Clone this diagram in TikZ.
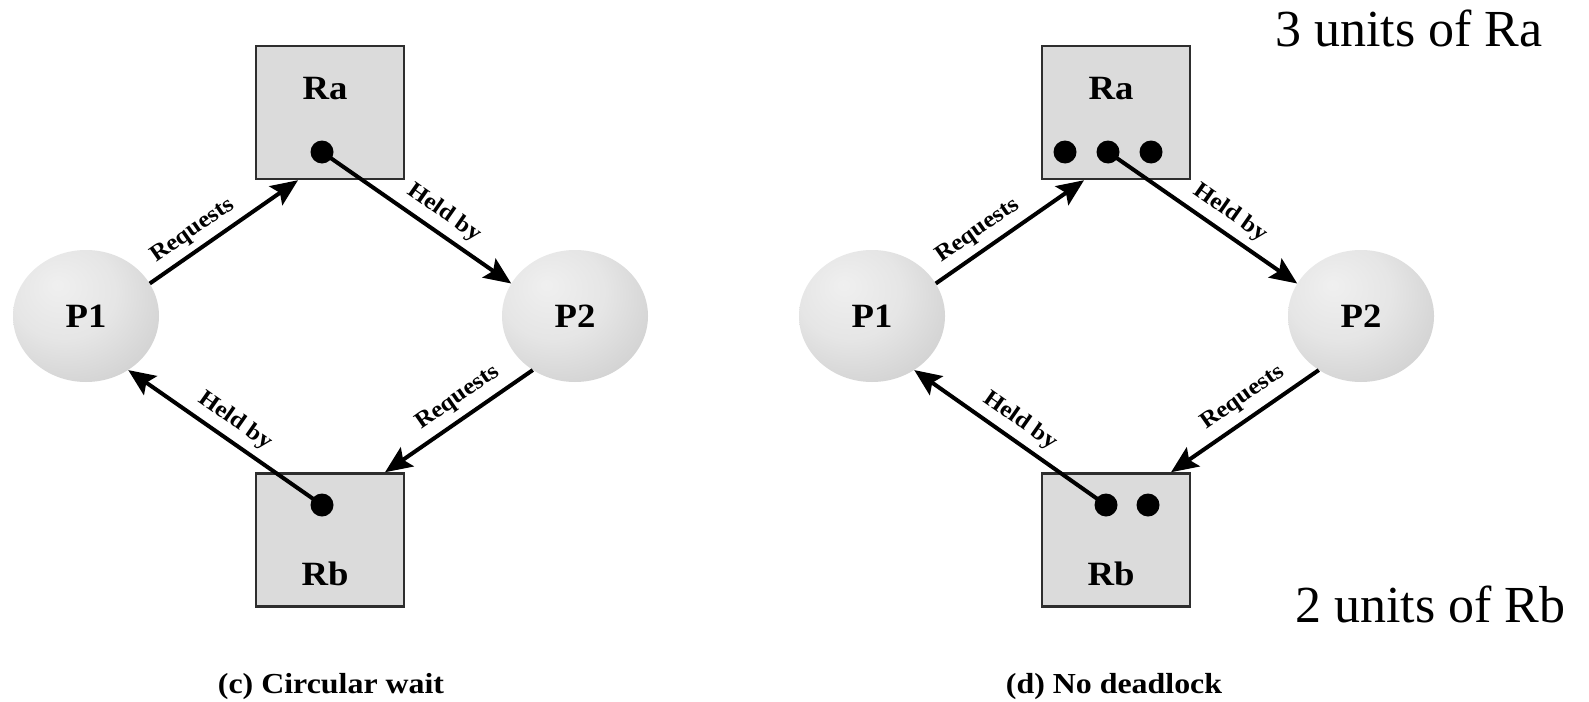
\documentclass[tikz,border=0pt]{standalone}
\usepackage{fontspec}
\setmainfont{Liberation Serif}
\usetikzlibrary{shapes.geometric,arrows.meta}
\pgfdeclareradialshading{procball}{\pgfpoint{-10bp}{12bp}}{color(0bp)=(black!6); color(18bp)=(black!10); color(40bp)=(black!20); color(55bp)=(black!28); color(75bp)=(black!32)}
\newcommand\hstr[1]{\scalebox{1.08}[1]{#1}}
\newcommand\lstr[1]{\scalebox{1.1}[1]{#1}}
\begin{document}
\begin{tikzpicture}[x=1pt,y=-1pt,
  rbox/.style={draw=black!82, line width=2.5pt, fill=black!14, minimum width=148pt, minimum height=133pt, inner sep=0pt},
  proc/.style={ellipse, minimum width=146pt, minimum height=132pt, inner sep=0pt, shading=procball, font=\bfseries\fontsize{34}{34}\selectfont},
  rname/.style={anchor=base, inner sep=0pt, font=\bfseries\fontsize{34}{34}\selectfont},
  unit/.style={circle, fill=black, minimum size=23pt, inner sep=0pt},
  arr/.style={line width=4pt, -{Stealth[length=27pt,width=23pt,inset=5pt]}},
  lab/.style={inner sep=0pt, font=\bfseries\fontsize{23}{23}\selectfont},
  captext/.style={anchor=base, inner sep=0pt, font=\bfseries\fontsize{29}{29}\selectfont},
  note/.style={anchor=base west, inner sep=0pt, font=\fontsize{52}{52}\selectfont}]
\fill[white] (0,0) rectangle (1589,701);
\useasboundingbox (0,0) rectangle (1589,701);

% ---------- (c) Circular wait ----------
\node[rbox] (Ra1) at (330,112.5) {};
\node[rname] (Ra1t) at (325,99) {\hstr{Ra}};
\node[rbox] (Rb1) at (330,540) {};
\node[rname] (Rb1t) at (325,585) {\hstr{Rb}};
\node[proc] (P11) at (86,316) {\hstr{P1}};
\node[proc] (P21) at (575,316) {\hstr{P2}};
\node[unit] (a11) at (322,152) {};
\node[unit] (b11) at (322,505) {};
\draw[arr] (P11.27) -- ([xshift=-32pt]Ra1.south);
\draw[arr] (a11.center) -- (P21.153);
\draw[arr] (b11.center) -- (P11.-52);
\draw[arr] (P21.232) -- ([xshift=55pt]Rb1.north);
\node[lab, rotate=35] (l11) at (193,231) {\lstr{Requests}};
\node[lab, rotate=-35] (l12) at (444,213) {\lstr{Held by}};
\node[lab, rotate=-35] (l13) at (235,421) {\lstr{Held by}};
\node[lab, rotate=35] (l14) at (458,398) {\lstr{Requests}};
\node[captext] (c1) at (331,693) {\scalebox{1.1}[1]{(c) Circular wait}};

% ---------- (d) No deadlock ----------
\node[rbox] (Ra2) at (1116,112.5) {};
\node[rname] (Ra2t) at (1111,99) {\hstr{Ra}};
\node[rbox] (Rb2) at (1116,540) {};
\node[rname] (Rb2t) at (1111,585) {\hstr{Rb}};
\node[proc] (P12) at (872,316) {\hstr{P1}};
\node[proc] (P22) at (1361,316) {\hstr{P2}};
\node[unit] (a21) at (1065,152) {};
\node[unit] (a22) at (1108,152) {};
\node[unit] (a23) at (1151,152) {};
\node[unit] (b21) at (1106,505) {};
\node[unit] (b22) at (1148,505) {};
\draw[arr] (P12.27) -- ([xshift=-32pt]Ra2.south);
\draw[arr] (a22.center) -- (P22.153);
\draw[arr] (b21.center) -- (P12.-52);
\draw[arr] (P22.232) -- ([xshift=55pt]Rb2.north);
\node[lab, rotate=35] (l21) at (978,231) {\lstr{Requests}};
\node[lab, rotate=-35] (l22) at (1230,213) {\lstr{Held by}};
\node[lab, rotate=-35] (l23) at (1020,421) {\lstr{Held by}};
\node[lab, rotate=35] (l24) at (1243,398) {\lstr{Requests}};
\node[captext] (c2) at (1114,693) {\scalebox{1.1}[1]{(d) No deadlock}};

\node[note] (n1) at (1275,47) {3 units of Ra};
\node[note] (n2) at (1295,622) {2 units of Rb};
\end{tikzpicture}
\end{document}
